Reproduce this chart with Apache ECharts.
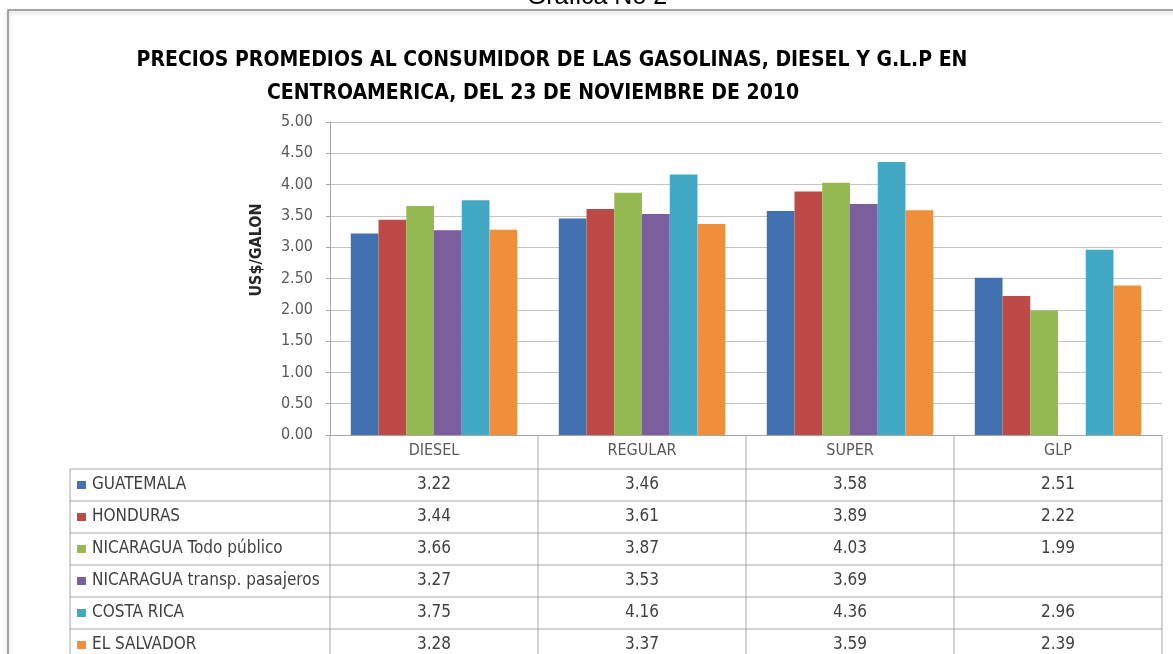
<!DOCTYPE html>
<html>
<head>
<meta charset="utf-8">
<title>Gráfica No 2</title>
<script src="https://cdn.jsdelivr.net/npm/echarts@6/dist/echarts.min.js"></script>
<style>
  html, body { margin: 0; padding: 0; background: #fff; }
  #chart { width: 1173px; height: 654px; }
</style>
</head>
<body>
<div id="chart"></div>
<script>
// categorias (eje X) y series por pais
const categories = ["DIESEL", "REGULAR", "SUPER", "GLP"];
const countryNames = [
  "GUATEMALA",
  "HONDURAS",
  "NICARAGUA Todo público",
  "NICARAGUA transp. pasajeros",
  "COSTA RICA",
  "EL SALVADOR",
];
const guatemala = [3.22, 3.46, 3.58, 2.51];
const honduras = [3.44, 3.61, 3.89, 2.22];
const nicaraguaPublico = [3.66, 3.87, 4.03, 1.99];
const nicaraguaTransp = [3.27, 3.53, 3.69, null]; // sin dato de GLP
const costaRica = [3.75, 4.16, 4.36, 2.96];
const elSalvador = [3.28, 3.37, 3.59, 2.39];
const yMin = 0;
const yMax = 5;
const yStep = 0.5;

const seriesData = [guatemala, honduras, nicaraguaPublico, nicaraguaTransp, costaRica, elSalvador];
const colors = ["#4271B2", "#BD4A47", "#96B852", "#7B5E9E", "#43A8C3", "#EF8F3C"];

const FONT = '"Liberation Sans Narrow", "DejaVu Sans Condensed", "Open Sans", sans-serif';
const LINE = "#a6a6a6";

// geometria de la tabla de datos
const plotLeft = 330;
const plotRight = 1162;
const plotBottom = 435;
const tableLeft = 70;
const headerBottom = 469;
const rowH = 32;

const chart = echarts.init(document.getElementById("chart"));

chart.setOption({
  animation: false,
  color: colors,
  grid: { left: plotLeft, right: 1173 - plotRight, top: 122, bottom: 654 - plotBottom },
  xAxis: {
    type: "category",
    data: categories,
    axisLine: { lineStyle: { color: LINE } },
    axisTick: { show: false },
    axisLabel: { color: "#595959", fontFamily: FONT, fontSize: 16, margin: 8 },
  },
  yAxis: {
    type: "value",
    min: yMin,
    max: yMax,
    interval: yStep,
    axisLine: { show: true, lineStyle: { color: LINE } },
    axisTick: { show: true, length: 4, lineStyle: { color: LINE } },
    axisLabel: {
      color: "#595959",
      fontFamily: FONT,
      fontSize: 16,
      margin: 17,
      formatter: (v) => v.toFixed(2),
    },
    splitLine: { lineStyle: { color: "#c4c4c4" } },
  },
  series: seriesData.map((d, i) => ({
    name: countryNames[i],
    type: "bar",
    data: d,
    barGap: "0%",
    barCategoryGap: "20%",
  })),
});

// tabla debajo del grafico, alineada con las categorias del eje
const colCenters = categories.map((c) => chart.convertToPixel({ xAxisIndex: 0 }, c));
const colW = (plotRight - plotLeft) / categories.length;
const tableBottom = headerBottom + rowH * countryNames.length + 10;
const els = [];

// marco y encabezado de la pagina
els.push({
  type: "rect",
  shape: { x: 8, y: 10, width: 1200, height: 700 },
  style: { fill: "none", stroke: "#8c8c8c", lineWidth: 1.5, shadowBlur: 4, shadowColor: "rgba(0,0,0,0.25)", shadowOffsetY: 2 },
  silent: true,
});
els.push({
  type: "text",
  x: 597,
  y: 10,
  style: { text: "Gráfica No 2", fill: "#000", font: '25px "Liberation Sans", Arial, sans-serif', align: "center", verticalAlign: "bottom" },
});

// titulo
els.push({
  type: "text",
  x: 552,
  y: 61,
  style: { text: "PRECIOS PROMEDIOS AL CONSUMIDOR DE LAS GASOLINAS, DIESEL Y G.L.P EN", fill: "#000", font: "bold 21px " + FONT, align: "center", verticalAlign: "middle" },
});
els.push({
  type: "text",
  x: 533,
  y: 94,
  style: { text: "CENTROAMERICA, DEL 23 DE NOVIEMBRE DE 2010", fill: "#000", font: "bold 21px " + FONT, align: "center", verticalAlign: "middle" },
});

// titulo del eje Y
els.push({
  type: "text",
  x: 257,
  y: 250,
  rotation: Math.PI / 2,
  style: { text: "US$/GALON", fill: "#262626", font: "bold 16px " + FONT, align: "center", verticalAlign: "middle" },
});

// lineas verticales de columnas
for (let k = 0; k <= categories.length; k++) {
  const x = plotLeft + k * colW;
  els.push({ type: "line", shape: { x1: x, y1: plotBottom, x2: x, y2: tableBottom }, style: { stroke: LINE, lineWidth: 1 } });
}
els.push({ type: "line", shape: { x1: tableLeft, y1: headerBottom, x2: tableLeft, y2: tableBottom }, style: { stroke: LINE, lineWidth: 1 } });
// lineas horizontales de filas
for (let r = 0; r <= countryNames.length; r++) {
  const y = headerBottom + r * rowH;
  els.push({ type: "line", shape: { x1: tableLeft, y1: y, x2: plotRight, y2: y }, style: { stroke: LINE, lineWidth: 1 } });
}

countryNames.forEach((name, r) => {
  const cy = headerBottom + r * rowH + rowH / 2;
  els.push({ type: "rect", shape: { x: 77, y: cy - 4, width: 9, height: 8 }, style: { fill: colors[r] } });
  els.push({
    type: "text",
    x: 92,
    y: cy,
    style: { text: name, fill: "#404040", font: "17px " + FONT, align: "left", verticalAlign: "middle" },
  });
  seriesData[r].forEach((v, c) => {
    if (v == null) return;
    els.push({
      type: "text",
      x: colCenters[c],
      y: cy,
      style: { text: v.toFixed(2), fill: "#404040", font: "17px " + FONT, align: "center", verticalAlign: "middle" },
    });
  });
});

chart.setOption({ graphic: { elements: els } });
</script>
</body>
</html>
